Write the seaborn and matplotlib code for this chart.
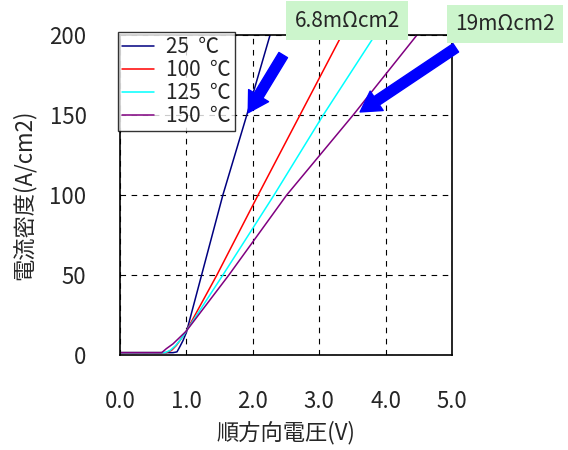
import numpy as np
import pandas as pd
import seaborn as sns
import matplotlib.pyplot as plt

# 読み取った値 (電圧 V, 電流密度 A/cm2)
v_25 = [0.0, 0.80, 0.86, 0.90, 0.95, 1.00, 1.23, 1.55, 1.91, 2.26]
j_25 = [1.5, 1.5, 2, 5, 9, 14, 50, 100, 150, 200]
v_100 = [0.0, 0.70, 0.78, 0.85, 0.92, 1.00, 1.46, 2.08, 2.71, 3.34]
j_100 = [1.5, 1.5, 3, 6, 10, 15, 50, 100, 150, 200]
v_125 = [0.0, 0.68, 0.76, 0.84, 0.92, 1.00, 1.55, 2.32, 3.06, 3.84]
j_125 = [1.5, 1.5, 3, 6, 10, 15, 50, 100, 150, 200]
v_150 = [0.0, 0.63, 0.70, 0.80, 0.90, 1.00, 1.64, 2.51, 3.51, 4.47]
j_150 = [1.5, 1.5, 4, 7, 11, 15, 50, 100, 150, 200]

labels = ["25  ℃", "100  ℃", "125  ℃", "150  ℃"]
colors = ["#000080", "#ff0000", "#00ffff", "#800080"]

frames = []
for lab, v, j in zip(labels, [v_25, v_100, v_125, v_150], [j_25, j_100, j_125, j_150]):
    frames.append(pd.DataFrame({"V": v, "J": j, "T": lab}))
df = pd.concat(frames)

sns.set_theme(style="white")
plt.rcParams["font.family"] = ["Noto Sans CJK JP", "DejaVu Sans"]

fig = plt.figure(figsize=(5.68, 4.5), dpi=100)
ax = fig.add_axes([0.211, 0.211, 0.585, 0.711])

sns.lineplot(data=df, x="V", y="J", hue="T", palette=colors, sort=False,
             linewidth=1.1, ax=ax, estimator=None)

ax.set_xlim(0, 5)
ax.set_ylim(0, 200)
ax.set_xticks([0, 1, 2, 3, 4, 5])
ax.set_xticklabels(["0.0", "1.0", "2.0", "3.0", "4.0", "5.0"])
ax.set_yticks([0, 50, 100, 150, 200])
ax.tick_params(labelsize=16, length=0)
ax.tick_params(axis="x", pad=25)
ax.tick_params(axis="y", pad=24)
ax.grid(True, color="black", linestyle=(0, (5, 5)), linewidth=0.8)
for s in ax.spines.values():
    s.set_color("black")
    s.set_linewidth(1.2)

ax.set_xlabel("順方向電圧(V)", fontsize=16, labelpad=6)
ax.set_ylabel("電流密度(A/cm2)", fontsize=16, labelpad=10)

leg = ax.legend(loc="upper left", fontsize=15, frameon=True, fancybox=False,
                handlelength=1.5, borderpad=0.2, labelspacing=0.05,
                borderaxespad=0.0, handletextpad=0.6, bbox_to_anchor=(-0.005, 1.01))
leg.set_title(None)
leg.get_frame().set_edgecolor("black")
leg.get_frame().set_linewidth(1.0)

# 矢印と注記
ax.annotate("", xy=(1.91, 150), xytext=(2.48, 189), annotation_clip=False,
            arrowprops=dict(arrowstyle="simple,head_width=1.4,head_length=1.2,tail_width=0.6",
                            color="#0000ff"))
ax.annotate("", xy=(3.58, 151), xytext=(5.09, 193), annotation_clip=False,
            arrowprops=dict(arrowstyle="simple,head_width=1.4,head_length=1.2,tail_width=0.6",
                            color="#0000ff"))
box = dict(boxstyle="square,pad=0.4", facecolor="#ccf5cc", edgecolor="none")
ax.text(3.42, 209, "6.8mΩcm2", fontsize=15, ha="center", va="center",
        bbox=box, clip_on=False)
ax.text(5.80, 207, "19mΩcm2", fontsize=15, ha="center", va="center",
        bbox=box, clip_on=False)

fig.savefig("out.png", dpi=100)
